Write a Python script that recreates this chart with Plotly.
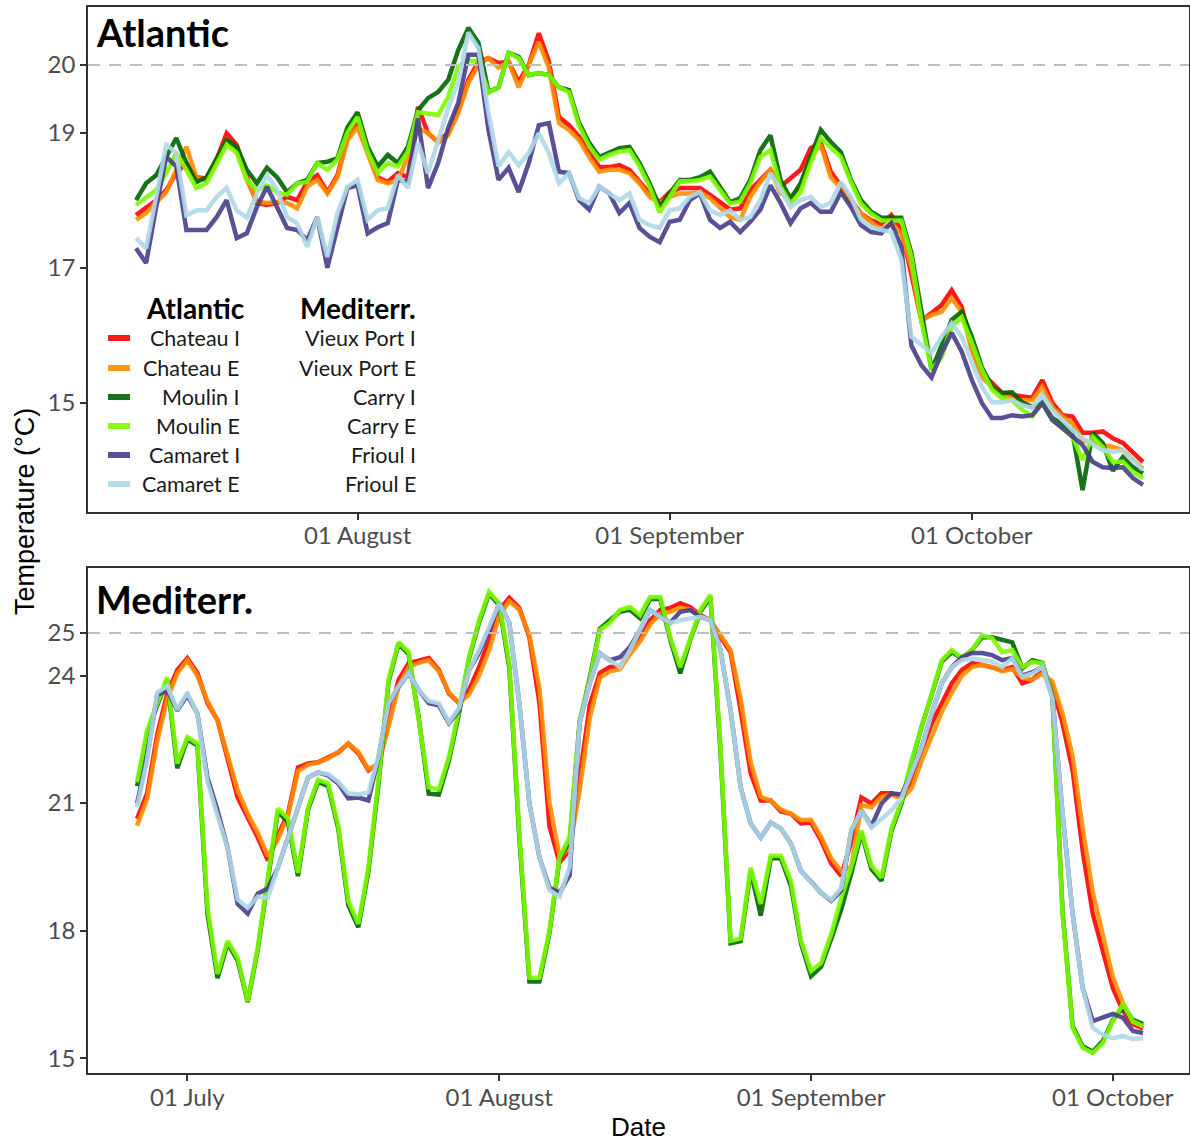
import plotly.graph_objects as go
import pandas as pd

# ---------------- data ----------------
atl_dates = pd.date_range("2019-07-10", periods=101, freq="D")
med_dates = pd.date_range("2019-06-26", periods=101, freq="D")

atl_names = ["Chateau I", "Chateau E", "Moulin I", "Moulin E", "Camaret I", "Camaret E"]
med_names = ["Vieux Port I", "Vieux Port E", "Carry I", "Carry E", "Frioul I", "Frioul E"]

atl_chateau_i = [
    17.78, 17.88, 18.0, 18.15, 18.4, 18.55, 18.34, 18.32, 18.6, 18.99,
    18.82, 18.34, 17.96, 17.93, 17.96, 18.05, 18.0, 18.27, 18.37, 18.12,
    18.37, 18.94, 19.14, 18.74, 18.34, 18.27, 18.4, 18.34, 19.38, 18.99,
    18.86, 19.0, 19.33, 19.78, 20.05, 20.1, 20.03, 20.05, 19.75, 20.0,
    20.47, 20.05, 19.23, 19.11, 18.94, 18.71, 18.49, 18.49, 18.52, 18.45,
    18.27, 18.1, 17.97, 18.12, 18.18, 18.18, 18.18, 18.08, 17.96, 17.86,
    17.88, 18.15, 18.3, 18.45, 18.2, 18.33, 18.45, 18.77, 18.85, 18.42,
    18.22, 18.0, 17.8, 17.7, 17.65, 17.78, 17.56, 16.9, 16.22, 16.33,
    16.45, 16.67, 16.42, 15.83, 15.44, 15.3, 15.15, 15.12, 15.1, 15.08,
    15.34, 15.0, 14.82, 14.8, 14.56, 14.56, 14.58, 14.48, 14.41, 14.26,
    14.13]
atl_chateau_e = [
    17.71, 17.81, 17.96, 18.12, 18.45, 18.79, 18.33, 18.3, 18.6, 18.89,
    18.74, 18.3, 17.98, 17.96, 17.97, 17.96, 17.88, 18.2, 18.3, 18.1,
    18.34, 18.89, 19.08, 18.67, 18.3, 18.25, 18.3, 18.64, 19.06, 19.0,
    18.85, 18.96, 19.29, 19.73, 20.0, 20.1, 19.96, 20.05, 19.67, 20.0,
    20.34, 19.96, 19.14, 19.04, 18.89, 18.64, 18.42, 18.45, 18.45, 18.4,
    18.25, 18.05, 17.96, 18.05, 18.1, 18.1, 18.12, 18.03, 17.88, 17.75,
    17.71, 18.05, 18.27, 18.45, 18.1, 18.05, 18.2, 18.64, 18.82, 18.34,
    18.18, 17.96, 17.8, 17.68, 17.56, 17.66, 17.51, 17.01, 16.22, 16.3,
    16.35, 16.55, 16.35, 15.78, 15.38, 15.24, 15.12, 15.07, 15.04, 15.04,
    15.24, 14.94, 14.8, 14.7, 14.45, 14.41, 14.38, 14.35, 14.3, 14.16,
    14.03]
atl_moulin_i = [
    18.0, 18.25, 18.37, 18.64, 18.92, 18.55, 18.27, 18.34, 18.6, 18.89,
    18.79, 18.45, 18.25, 18.48, 18.34, 18.12, 18.25, 18.3, 18.55, 18.57,
    18.62, 19.08, 19.3, 18.79, 18.5, 18.67, 18.55, 18.79, 19.33, 19.51,
    19.6, 19.78, 20.22, 20.55, 20.33, 19.6, 19.67, 20.18, 20.12, 19.85,
    19.88, 19.85, 19.67, 19.63, 19.14, 18.85, 18.64, 18.71, 18.77, 18.79,
    18.55, 18.25, 17.9, 18.1, 18.3, 18.3, 18.34, 18.42, 18.2, 17.97,
    18.03, 18.3, 18.74, 18.96, 18.3, 18.02, 18.25, 18.64, 19.04, 18.86,
    18.71, 18.3, 18.0, 17.83, 17.74, 17.74, 17.74, 17.22, 16.35, 15.49,
    15.85, 16.23, 16.35, 15.98, 15.53, 15.24, 15.15, 15.16, 15.01, 14.94,
    15.0, 14.78, 14.68, 14.56, 13.71, 14.56, 14.41, 14.0, 14.2, 14.05,
    13.96]
atl_moulin_e = [
    17.93, 18.05, 18.15, 18.4, 18.7, 18.45, 18.18, 18.25, 18.55, 18.82,
    18.7, 18.3, 18.15, 18.22, 18.12, 18.08, 18.25, 18.27, 18.55, 18.45,
    18.6, 19.0, 19.23, 18.72, 18.4, 18.55, 18.5, 18.72, 19.3, 19.28,
    19.26, 19.53, 19.97, 20.07, 20.05, 19.59, 19.67, 20.18, 20.1, 19.85,
    19.88, 19.85, 19.67, 19.6, 19.1, 18.8, 18.6, 18.67, 18.72, 18.74,
    18.5, 18.2, 17.82, 18.05, 18.28, 18.28, 18.3, 18.35, 18.15, 17.95,
    17.98, 18.25, 18.64, 18.74, 18.2, 17.95, 18.12, 18.55, 18.92, 18.77,
    18.64, 18.27, 17.95, 17.8, 17.7, 17.7, 17.7, 17.16, 16.2, 15.49,
    15.68, 16.13, 16.27, 15.89, 15.49, 15.2, 15.07, 15.04, 14.9, 14.8,
    15.0, 14.75, 14.62, 14.5, 14.16, 14.5, 14.35, 14.13, 14.13, 13.98,
    13.89]
atl_camaret_i = [
    17.29, 17.07, 17.9, 18.64, 18.5, 17.56, 17.56, 17.56, 17.75, 18.0,
    17.44, 17.51, 17.9, 18.2, 17.9, 17.59, 17.56, 17.41, 17.75, 17.0,
    17.6, 18.18, 18.22, 17.51, 17.6, 17.66, 18.3, 18.27, 19.21, 18.18,
    18.55, 19.07, 19.44, 20.15, 20.15, 19.04, 18.3, 18.48, 18.12, 18.55,
    19.11, 19.14, 18.42, 18.4, 18.0, 17.86, 18.2, 18.1, 17.81, 17.96,
    17.59, 17.46, 17.38, 17.68, 17.71, 18.0, 18.1, 17.71, 17.59, 17.68,
    17.53, 17.68, 17.86, 18.22, 17.96, 17.66, 17.88, 17.96, 17.83, 17.83,
    18.12, 17.9, 17.63, 17.53, 17.51, 17.66, 17.31, 15.85, 15.56, 15.38,
    15.74, 16.04, 15.76, 15.34, 15.0, 14.78, 14.78, 14.82, 14.8, 14.82,
    15.0, 14.75, 14.63, 14.5, 14.38, 14.13, 14.05, 14.04, 14.05, 13.89,
    13.79]
atl_camaret_e = [
    17.44, 17.29, 18.05, 18.82, 18.7, 17.78, 17.85, 17.85, 18.05, 18.18,
    17.85, 17.74, 18.1, 18.37, 18.15, 17.75, 17.66, 17.31, 17.75, 17.16,
    17.81, 18.2, 18.3, 17.71, 17.85, 17.88, 18.37, 18.18, 18.85, 18.4,
    18.88, 19.36, 19.75, 20.48, 20.25, 19.29, 18.5, 18.71, 18.52, 18.7,
    18.99, 18.7, 18.25, 18.4, 18.03, 17.96, 18.2, 18.1, 18.0, 18.1,
    17.71, 17.63, 17.59, 17.85, 17.88, 18.05, 18.12, 17.85, 17.78, 17.85,
    17.71, 17.75, 18.0, 18.4, 18.15, 17.9, 18.0, 18.05, 17.9, 17.96,
    18.27, 18.05, 17.71, 17.6, 17.56, 17.53, 17.12, 15.98, 15.86, 15.74,
    15.98, 16.18, 15.98, 15.59, 15.24, 15.01, 15.01, 15.04, 14.97, 14.93,
    15.12, 14.9, 14.75, 14.6, 14.48, 14.38, 14.3, 14.28, 14.3, 14.16,
    14.01]

med_vieux_port_i = [
    20.63, 21.23, 22.6, 23.58, 24.13, 24.41, 24.06, 23.35, 22.95, 22.0,
    21.13, 20.66, 20.19, 19.65, 20.24, 20.75, 21.84, 21.93, 21.96, 22.08,
    22.19, 22.4, 22.17, 21.77, 21.93, 22.95, 23.9, 24.29, 24.36, 24.41,
    24.13, 23.58, 23.35, 23.66, 24.2, 24.83, 25.54, 25.83, 25.59, 24.9,
    23.35, 20.45, 19.6, 19.9, 21.6, 23.3, 24.06, 24.2, 24.2, 24.6,
    24.9, 25.3, 25.54, 25.59, 25.7, 25.61, 25.42, 25.3, 24.9, 24.55,
    23.18, 21.7, 21.06, 21.06, 20.8, 20.75, 20.52, 20.54, 20.12, 19.58,
    19.29, 20.1, 21.13, 20.99, 21.23, 21.23, 21.13, 21.5, 22.24, 22.88,
    23.35, 23.82, 24.13, 24.29, 24.25, 24.2, 24.13, 24.2, 23.82, 23.9,
    24.13, 23.73, 22.88, 21.77, 19.88, 18.4, 17.52, 16.65, 16.11, 15.8,
    15.7]
med_vieux_port_e = [
    20.47, 21.1, 22.45, 23.45, 24.05, 24.36, 24.0, 23.4, 22.95, 22.15,
    21.3, 20.75, 20.3, 19.75, 20.15, 20.7, 21.75, 21.9, 21.95, 22.05,
    22.2, 22.4, 22.2, 21.8, 21.9, 22.8, 23.75, 24.2, 24.3, 24.36,
    24.1, 23.6, 23.35, 23.55, 24.0, 24.6, 25.4, 25.75, 25.55, 24.95,
    23.7, 21.0, 19.75, 19.95, 21.3, 23.0, 23.95, 24.1, 24.15, 24.5,
    24.8, 25.2, 25.45, 25.5, 25.6, 25.55, 25.4, 25.3, 24.95, 24.6,
    23.45, 21.95, 21.15, 21.05, 20.85, 20.75, 20.6, 20.6, 20.2, 19.7,
    19.4, 19.5, 20.95, 20.9, 21.15, 21.2, 21.1, 21.35, 22.0, 22.6,
    23.15, 23.6, 24.0, 24.2, 24.25, 24.2, 24.1, 24.15, 23.95, 23.9,
    24.05, 23.85, 23.1, 22.1, 20.4, 18.9, 17.9, 16.9, 16.3, 15.85,
    15.75]
med_carry_i = [
    21.4, 22.6, 23.3, 23.9, 21.82, 22.5, 22.35, 18.4, 16.88, 17.7,
    17.3, 16.32, 17.55, 19.1, 20.8, 20.55, 19.28, 20.85, 21.5, 21.4,
    20.4, 18.6, 18.08, 19.4, 21.45, 23.85, 24.75, 24.5, 23.0, 21.22,
    21.2, 22.0, 23.1, 24.4, 25.25, 25.93, 25.65, 24.2, 20.2, 16.8,
    16.8, 17.95, 19.7, 20.1, 22.9, 23.95, 25.1, 25.3, 25.5, 25.55,
    25.35, 25.8, 25.8, 24.85, 24.05, 24.85, 25.5, 25.85, 22.2, 17.7,
    17.75, 19.4, 18.35, 19.7, 19.7, 19.05, 17.7, 16.93, 17.15, 17.8,
    18.5, 19.35, 20.3, 19.45, 19.17, 20.35, 21.0, 21.95, 22.8, 23.55,
    24.33, 24.55, 24.4, 24.6, 24.9, 24.9, 24.85, 24.78, 24.17, 24.36,
    24.3, 23.5, 18.45, 15.75, 15.28, 15.15, 15.4, 15.9, 16.2, 15.9,
    15.8]
med_carry_e = [
    21.49, 22.71, 23.35, 23.96, 21.93, 22.55, 22.4, 18.54, 16.98, 17.76,
    17.36, 16.34, 17.6, 19.17, 20.87, 20.64, 19.36, 20.9, 21.55, 21.46,
    20.47, 18.7, 18.16, 19.48, 21.53, 23.9, 24.79, 24.55, 22.95, 21.37,
    21.32, 22.08, 23.18, 24.43, 25.3, 25.97, 25.7, 24.29, 20.3, 16.89,
    16.89, 18.0, 19.72, 20.2, 22.95, 23.9, 25.07, 25.24, 25.54, 25.61,
    25.42, 25.85, 25.85, 24.9, 24.2, 24.9, 25.54, 25.9, 22.3, 17.76,
    17.81, 19.48, 18.63, 19.76, 19.76, 19.17, 17.76, 17.05, 17.24, 17.92,
    18.77, 19.5, 20.35, 19.53, 19.25, 20.4, 21.06, 22.0, 22.78, 23.58,
    24.36, 24.6, 24.41, 24.6, 24.95, 24.88, 24.55, 24.6, 24.2, 24.32,
    24.29, 23.49, 18.4, 15.71, 15.24, 15.12, 15.35, 15.87, 16.27, 15.87,
    15.75]
med_frioul_i = [
    20.99, 22.08, 23.54, 23.66, 23.18, 23.54, 23.11, 21.6, 20.83, 19.95,
    18.63, 18.4, 18.87, 18.99, 19.48, 20.19, 20.9, 21.6, 21.72, 21.65,
    21.46, 21.11, 21.13, 21.06, 22.08, 23.35, 23.73, 24.06, 23.66, 23.35,
    23.3, 22.88, 23.18, 24.13, 24.53, 25.07, 25.7, 25.24, 23.35, 20.99,
    19.72, 19.01, 18.89, 19.3, 22.9, 23.82, 24.53, 24.36, 24.43, 24.67,
    25.07, 25.54, 25.38, 25.24, 25.5, 25.54, 25.38, 25.3, 24.6, 23.18,
    21.37, 20.52, 20.19, 20.54, 20.4, 20.05, 19.4, 19.13, 18.89, 18.7,
    18.94, 20.35, 20.83, 20.45, 20.99, 21.23, 21.2, 21.7, 22.31, 23.11,
    23.82, 24.2, 24.43, 24.53, 24.53, 24.48, 24.36, 24.41, 24.0, 24.08,
    24.2, 23.49, 20.75, 18.4, 16.65, 15.87, 15.95, 16.04, 15.95, 15.64,
    15.59]
med_frioul_e = [
    20.9, 22.0, 23.6, 23.75, 23.2, 23.6, 23.1, 21.5, 20.7, 19.95,
    18.73, 18.54, 18.8, 18.77, 19.48, 20.19, 20.9, 21.6, 21.72, 21.68,
    21.5, 21.23, 21.2, 21.25, 22.1, 23.35, 23.75, 24.06, 23.66, 23.4,
    23.35, 22.9, 23.23, 24.13, 24.6, 25.14, 25.7, 25.24, 23.35, 20.99,
    19.72, 18.95, 18.8, 19.5, 22.9, 23.82, 24.53, 24.36, 24.2, 24.6,
    25.07, 25.54, 25.38, 25.24, 25.3, 25.35, 25.38, 25.3, 24.6, 23.18,
    21.37, 20.52, 20.19, 20.54, 20.4, 20.05, 19.4, 19.13, 18.89, 18.72,
    19.0, 20.35, 20.83, 20.42, 20.64, 20.83, 21.13, 21.7, 22.31, 23.11,
    23.82, 24.2, 24.36, 24.4, 24.36, 24.33, 24.2, 24.4, 23.97, 24.05,
    24.2, 23.45, 20.75, 18.4, 16.65, 15.71, 15.55, 15.47, 15.52, 15.45,
    15.47]

atl_series = [atl_chateau_i, atl_chateau_e, atl_moulin_i, atl_moulin_e, atl_camaret_i, atl_camaret_e]
med_series = [med_vieux_port_i, med_vieux_port_e, med_carry_i, med_carry_e, med_frioul_i, med_frioul_e]

atl_threshold = 20
med_threshold = 25
atl_yticks = [15, 17, 19, 20]
med_yticks = [15, 18, 21, 24, 25]
atl_xticks = ["2019-08-01", "2019-09-01", "2019-10-01"]
atl_xticktext = ["01 August", "01 September", "01 October"]
med_xticks = ["2019-07-01", "2019-08-01", "2019-09-01", "2019-10-01"]
med_xticktext = ["01 July", "01 August", "01 September", "01 October"]

# ---------------- style ----------------
line_colors = ["rgba(255,0,0,0.9)", "rgba(255,140,0,0.9)", "rgba(0,100,0,0.9)",
               "rgba(124,252,0,0.9)", "rgba(72,61,139,0.9)", "rgba(173,216,230,0.9)"]
swatch_colors = ["#ff1a1a", "#ff9819", "#1a731a", "#89fc1a", "#5a5096", "#b5dce9"]

W, H = 1190, 1142
ML, MR, MT, MB = 88, 1, 7, 69
PW, PH = W - ML - MR, H - MT - MB


def px(x):
    return (x - ML) / PW


def py(y):
    return (H - MB - y) / PH


for s in atl_series + med_series:
    assert len(s) == 101, len(s)

fig = go.Figure()
for name, vals, col in zip(atl_names, atl_series, line_colors):
    fig.add_trace(go.Scatter(x=atl_dates, y=vals, mode="lines", name=name,
                             line=dict(color=col, width=4.5), xaxis="x", yaxis="y"))
for name, vals, col in zip(med_names, med_series, line_colors):
    fig.add_trace(go.Scatter(x=med_dates, y=vals, mode="lines", name=name,
                             line=dict(color=col, width=4.5), xaxis="x2", yaxis="y2"))

tickfont = dict(family="Lato, sans-serif", size=24, color="#4d4d4d")
axis_common = dict(showline=True, linecolor="#333333", linewidth=1.5, mirror=True,
                   ticks="outside", ticklen=6, tickwidth=1.5, tickcolor="#333333",
                   showgrid=False, zeroline=False, tickfont=tickfont)

top_dom = [py(512), 1.0]
bot_dom = [0.0, py(568)]

fig.update_layout(
    width=W, height=H,
    margin=dict(l=ML, r=MR, t=MT, b=MB, autoexpand=False),
    paper_bgcolor="white", plot_bgcolor="white",
    showlegend=False,
    xaxis=dict(axis_common, type="date", domain=[0, 1], anchor="y",
               range=["2019-07-05 05:30", "2019-10-22 13:40"],
               tickvals=atl_xticks, ticktext=atl_xticktext, ticklabelstandoff=-5),
    yaxis=dict(axis_common, domain=top_dom, anchor="x",
               range=[13.388, 20.858], tickvals=atl_yticks),
    xaxis2=dict(axis_common, type="date", domain=[0, 1], anchor="y2",
                range=["2019-06-21 03:00", "2019-10-08 13:40"],
                tickvals=med_xticks, ticktext=med_xticktext, ticklabelstandoff=-4,
                title=dict(text="Date", font=dict(family="Liberation Sans, Arial", size=26, color="black"),
                           standoff=10)),
    yaxis2=dict(axis_common, domain=bot_dom, anchor="x2",
                range=[14.65, 26.53], tickvals=med_yticks),
)

# reference lines
dash = dict(color="#bebebe", width=2, dash="12px,9px")
fig.add_shape(type="line", xref="x domain", yref="y", x0=0, x1=1,
              y0=atl_threshold, y1=atl_threshold, line=dash, layer="above")
fig.add_shape(type="line", xref="x2 domain", yref="y2", x0=0, x1=1,
              y0=med_threshold, y1=med_threshold, line=dash, layer="above")

ann = []
# panel titles
ann.append(dict(text="<b>Atlantic</b>", x=px(94), y=py(32), xref="paper", yref="paper",
                xanchor="left", yanchor="middle", showarrow=False,
                font=dict(family="Lato, sans-serif", size=38, color="black")))
ann.append(dict(text="<b>Mediterr.</b>", x=px(94), y=py(599), xref="paper", yref="paper",
                xanchor="left", yanchor="middle", showarrow=False,
                font=dict(family="Lato, sans-serif", size=38, color="black")))
# y axis title
ann.append(dict(text="Temperature (°C)", x=px(25), y=py(512), xref="paper", yref="paper",
                xanchor="center", yanchor="middle", showarrow=False, textangle=-90,
                font=dict(family="Liberation Sans, Arial", size=27, color="black")))

# legend
ann.append(dict(text="<b>Atlantic</b>", x=px(195), y=py(308), xref="paper", yref="paper",
                xanchor="center", yanchor="middle", showarrow=False,
                font=dict(family="Lato, sans-serif", size=28, color="black")))
ann.append(dict(text="<b>Mediterr.</b>", x=px(358), y=py(308), xref="paper", yref="paper",
                xanchor="center", yanchor="middle", showarrow=False,
                font=dict(family="Lato, sans-serif", size=28, color="black")))
row_y = [338, 368, 397, 426, 455, 484]
legfont = dict(family="Lato, sans-serif", size=21.5, color="#1a1a1a")
for k in range(6):
    ann.append(dict(text=atl_names[k], x=px(242), y=py(row_y[k]), xref="paper", yref="paper",
                    xanchor="right", yanchor="middle", showarrow=False, font=legfont))
    ann.append(dict(text=med_names[k], x=px(418), y=py(row_y[k]), xref="paper", yref="paper",
                    xanchor="right", yanchor="middle", showarrow=False, font=legfont))
    fig.add_shape(type="line", xref="paper", yref="paper", x0=px(108), x1=px(130),
                  y0=py(row_y[k]), y1=py(row_y[k]),
                  line=dict(color=swatch_colors[k], width=6))
fig.update_layout(annotations=ann)

fig.write_html("out.html", config={"displayModeBar": False},
               post_script="document.body.style.margin='0px';document.body.style.padding='0px';")
